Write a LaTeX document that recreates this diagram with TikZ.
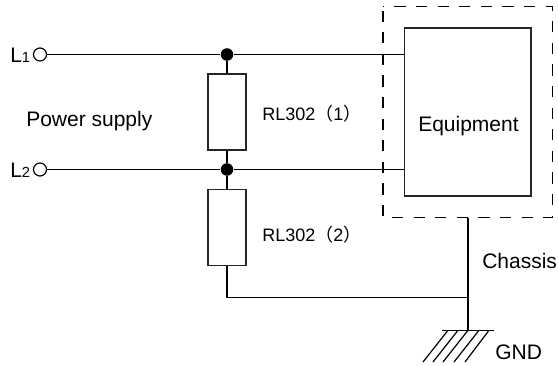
\documentclass[tikz,border=0pt]{standalone}
\usepackage{fontspec}
\setmainfont{Liberation Sans}
\newfontfamily\cjkparen{Noto Sans CJK SC}
\tikzset{
  wire/.style={line width=1.1pt,black},
  term/.style={circle,draw=black,line width=0.9pt,fill=white,minimum size=9.75pt,inner sep=0pt},
  junction/.style={circle,fill=black,minimum size=9.4pt,inner sep=0pt},
  resistor/.style={draw=black!85,line width=1.1pt,fill=white,minimum width=28.5pt,minimum height=57pt,inner sep=0pt},
  equip/.style={draw=black!85,line width=1.1pt,minimum width=94.9pt,minimum height=126pt,inner sep=0pt},
  shell/.style={draw=black,line width=1.05pt,dash pattern=on 8.4pt off 7.8pt,dash phase=-3pt},
  hatch/.style={line width=0.9pt,black},
  big/.style={font=\fontsize{15.75pt}{18pt}\selectfont,text=black,inner sep=0pt,anchor=base west},
  mid/.style={font=\fontsize{13.5pt}{16pt}\selectfont,text=black,inner sep=0pt,anchor=base west},
}
\begin{document}
\begin{tikzpicture}[x=0.75pt,y=-0.75pt]
\useasboundingbox (0,0) rectangle (558,365);
\fill[white] (0,0) rectangle (558,365);
% frame
\draw[shell] (383,6.5) rectangle (552.5,217.5);
% nodes
\node[term] (l1) at (40,54.5) {};
\node[term] (l2) at (40,169.5) {};
\node[junction] (j1) at (227,54.5) {};
\node[junction] (j2) at (227,169.5) {};
\node[resistor] (r1) at (227,112) {};
\node[resistor] (r2) at (227,227.5) {};
\node[equip] (eq) at (467.75,112) {};
\coordinate (e1) at (eq.west |- j1);
\coordinate (e2) at (eq.west |- j2);
\coordinate (top) at (467.8,218);
\coordinate (tee) at (467.8,297.5);
\coordinate (gnd) at (467.8,330);
\coordinate (corner) at (227,297.5);
% wires
\draw[wire] (l1) -- (j1) -- (e1);
\draw[wire] (l2) -- (j2) -- (e2);
\draw[wire] (j1) -- (r1);
\draw[wire] (r1) -- (j2) -- (r2);
\draw[wire] (r2) -- (corner) -- (tee);
\draw[wire] (top) -- (gnd);
% ground
\coordinate (gl) at (442,330.3);
\coordinate (gr) at (494,330.3);
\draw[hatch] (gl) -- (gr);
\foreach \t/\b in {448/423,458/433,468/443,479/454,489/465}
  \draw[hatch] (\t,330.3) -- (\b,362);
% text
\node[big] (tl1) at (10,62.5) {L\fontsize{11pt}{12pt}\selectfont 1};
\node[big] (tl2) at (10,177.5) {L\fontsize{11pt}{12pt}\selectfont 2};
\node[big] (ps) at (26,126.7) {Power supply};
\node[mid] (n1) at (262,120.8) {RL302{\cjkparen（}1{\cjkparen）}};
\node[mid] (n2) at (262,241.7) {RL302{\cjkparen（}2{\cjkparen）}};
\node[big] (eqt) at (418,131.7) {Equipment};
\node[big] (ch) at (482,268) {Chassis};
\node[big] (g) at (495,359) {GND};
\end{tikzpicture}
\end{document}
